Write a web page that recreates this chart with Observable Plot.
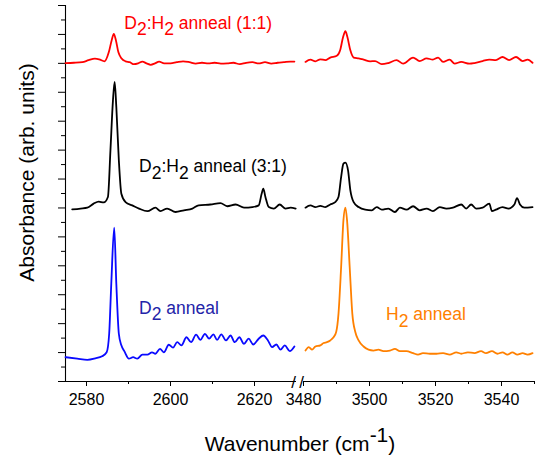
<!DOCTYPE html>
<html>
<head>
<meta charset="utf-8">
<script src="https://cdn.jsdelivr.net/npm/d3@7"></script>
<script src="https://cdn.jsdelivr.net/npm/@observablehq/plot@0.6"></script>
<style>
  html, body { margin: 0; padding: 0; background: #fff; }
  #chart svg { display: block; }
</style>
</head>
<body>
<div id="chart"></div>
<script>
// Broken wavenumber axis: D–O stretch region and H–O stretch region
const lowRange = [2575, 2630];
const highRange = [3480, 3550];
const xTicks = [2580, 2600, 2620, 3480, 3500, 3520, 3540];
const xMinorTicks = [2590, 2610, 3490, 3510, 3530, 3550];
const yMajorTicks = [0, 1, 2, 3, 4, 5, 6, 7, 8, 9, 10, 11, 12, 13];
const yMinorTicks = [0.5, 1.5, 2.5, 3.5, 4.5, 5.5, 6.5, 7.5, 8.5, 9.5, 10.5, 11.5, 12.5];

// Spectra [wavenumber, absorbance], vertically offset for display
const redLow = [
  [2575.0,11.01],[2577.0,11.02],[2579.0,11.04],[2580.5,11.11],[2582.0,11.16],[2583.0,11.14],
  [2584.3,11.07],[2585.3,11.38],[2586.0,11.80],[2586.5,12.02],[2587.0,11.80],[2587.6,11.38],
  [2588.3,11.18],[2589.3,11.07],[2590.3,11.04],[2591.3,10.97],[2592.3,11.00],[2593.3,11.06],
  [2594.3,11.00],[2595.3,10.95],[2596.3,11.00],[2597.3,11.06],[2598.5,11.00],[2600.0,11.00],
  [2601.5,11.04],[2603.0,11.07],[2604.5,11.04],[2606.0,10.99],[2607.5,11.02],[2609.0,11.00],
  [2610.5,11.02],[2612.0,10.99],[2613.5,11.00],[2615.0,11.02],[2616.5,10.97],[2618.0,11.02],
  [2619.5,11.04],[2621.0,11.00],[2622.5,11.04],[2624.0,10.99],[2625.5,11.02],[2627.0,11.04],
  [2628.5,11.06],[2629.5,11.06]
];
const redHigh = [
  [3480.6,11.05],[3482.1,11.13],[3483.6,11.07],[3485.1,11.14],[3486.6,11.11],[3488.1,11.20],
  [3490.1,11.26],[3491.1,11.45],[3492.0,11.91],[3492.7,12.11],[3493.3,11.91],[3494.2,11.45],
  [3495.2,11.20],[3496.7,11.17],[3498.2,11.13],[3500.2,11.07],[3501.7,11.08],[3503.7,10.97],
  [3505.7,11.01],[3508.2,11.11],[3510.2,10.99],[3513.2,11.20],[3515.2,11.08],[3517.3,11.17],
  [3519.2,11.13],[3520.8,11.20],[3522.3,11.05],[3524.3,11.13],[3525.8,10.99],[3527.8,11.05],
  [3530.3,10.99],[3531.8,11.01],[3534.3,11.08],[3536.3,11.13],[3538.3,11.11],[3540.3,11.22],
  [3542.3,11.11],[3544.4,11.22],[3546.4,11.08],[3547.9,11.13],[3549.4,11.02]
];
const blackLow = [
  [2576.6,5.95],[2578.6,5.98],[2580.2,6.01],[2581.7,6.15],[2582.9,6.22],[2584.1,6.19],
  [2585.1,6.38],[2585.7,7.99],[2586.3,9.72],[2586.7,10.36],[2587.1,9.49],[2587.7,7.65],
  [2588.3,6.49],[2589.3,6.20],[2590.9,6.09],[2592.5,5.98],[2594.5,5.89],[2596.4,6.01],
  [2597.6,5.89],[2599.2,5.98],[2601.2,5.86],[2603.2,5.92],[2605.2,5.98],[2606.7,6.09],
  [2609.5,6.12],[2611.9,6.17],[2613.5,6.06],[2615.5,6.12],[2617.5,6.01],[2619.5,6.03],
  [2621.0,6.09],[2621.7,6.49],[2622.1,6.67],[2622.6,6.38],[2623.4,6.03],[2624.6,5.98],
  [2626.0,6.12],[2627.4,5.98],[2628.6,6.01],[2629.8,5.98]
];
const blackHigh = [
  [3480.6,6.01],[3482.1,6.09],[3483.6,6.03],[3485.1,6.07],[3486.6,6.03],[3488.1,6.12],
  [3489.6,6.20],[3490.6,6.38],[3491.4,7.07],[3492.1,7.53],[3492.7,7.57],[3493.5,7.30],
  [3494.2,6.61],[3495.2,6.20],[3496.7,6.03],[3498.7,5.94],[3500.7,5.92],[3502.2,6.03],
  [3503.7,5.94],[3505.7,5.98],[3507.7,5.86],[3509.2,6.01],[3511.2,5.94],[3513.2,6.06],
  [3515.2,5.92],[3517.3,5.98],[3519.2,5.89],[3521.3,6.03],[3523.3,5.98],[3525.3,6.01],
  [3527.8,6.12],[3529.3,5.98],[3530.8,6.12],[3532.3,5.98],[3534.3,6.01],[3536.3,6.15],
  [3537.1,5.89],[3538.3,5.94],[3540.3,6.03],[3542.1,5.98],[3543.9,6.12],[3544.7,6.34],
  [3545.6,6.12],[3546.9,6.01],[3549.4,6.03]
];
const blueLow = [
  [2575.0,0.84],[2577.8,0.79],[2580.2,0.75],[2582.1,0.80],[2583.7,0.87],[2584.8,1.01],
  [2585.4,1.65],[2585.9,3.38],[2586.6,5.32],[2587.1,3.38],[2587.7,1.65],[2588.3,1.25],
  [2589.0,1.05],[2590.1,0.79],[2591.1,0.84],[2592.1,0.79],[2593.3,0.93],[2594.5,0.93],
  [2595.6,1.01],[2596.4,0.96],[2597.5,1.13],[2598.4,1.01],[2599.6,1.27],[2600.6,1.17],
  [2601.6,1.36],[2602.6,1.25],[2603.8,1.53],[2604.9,1.36],[2606.1,1.62],[2607.1,1.44],
  [2608.2,1.65],[2609.2,1.48],[2610.2,1.63],[2611.1,1.44],[2612.1,1.63],[2613.2,1.42],
  [2614.3,1.59],[2615.3,1.36],[2616.4,1.53],[2617.5,1.30],[2618.6,1.48],[2619.7,1.28],
  [2621.0,1.48],[2622.1,1.59],[2623.2,1.42],[2624.2,1.19],[2625.2,1.28],[2626.2,1.10],
  [2627.2,1.25],[2628.4,1.05],[2629.5,1.21]
];
const orangeHigh = [
  [3480.6,1.07],[3481.6,1.19],[3482.6,1.10],[3483.6,1.21],[3485.1,1.25],[3486.1,1.33],
  [3487.1,1.36],[3488.1,1.42],[3489.1,1.53],[3489.9,1.71],[3490.6,2.34],[3491.4,3.95],
  [3492.1,5.57],[3492.7,6.01],[3493.2,5.57],[3494.0,3.95],[3494.8,2.34],[3495.7,1.71],
  [3496.7,1.42],[3498.2,1.21],[3499.7,1.10],[3501.2,1.07],[3502.7,1.10],[3504.2,1.05],
  [3506.2,1.07],[3507.7,1.13],[3509.2,1.05],[3511.2,1.05],[3513.2,0.98],[3514.7,0.93],
  [3516.2,0.98],[3518.3,0.96],[3520.3,0.96],[3522.3,0.98],[3524.3,0.93],[3526.3,1.01],
  [3527.8,0.96],[3529.8,1.01],[3531.8,0.98],[3533.8,1.05],[3535.3,0.98],[3537.1,1.05],
  [3538.8,0.96],[3540.3,1.01],[3541.8,0.93],[3543.3,1.01],[3544.8,0.93],[3546.4,0.98],
  [3547.9,0.93],[3549.4,0.98]
];

const seriesNames = ["D2:H2 anneal (1:1)", "D2:H2 anneal (3:1)", "D2 anneal", "H2 anneal"];
const lineColors = ["#ff0000", "#000000", "#0a0aff", "#ff8000"];
const labelColors = ["#ff0000", "#000000", "#2323a8", "#ff8000"];
const labelX = [2589.0, 2592.5, 2592.5, 3505.0];
const labelY = [12.2, 7.23, 2.34, 2.13];

const segments = [
  {series: 0, points: redLow}, {series: 0, points: redHigh},
  {series: 1, points: blackLow}, {series: 1, points: blackHigh},
  {series: 2, points: blueLow},
  {series: 3, points: orangeHigh}
];
const rows = segments.flatMap((s, k) =>
  s.points.map(([x, y]) => ({x, y, seg: k, series: s.series})));
const labels = seriesNames.map((text, i) => ({text, x: labelX[i], y: labelY[i], color: labelColors[i]}));
const breakMarks = [{x: lowRange[1], dx: -3}, {x: highRange[0], dx: -2}];

const font = "'Liberation Sans', Arial, Helvetica, sans-serif";

const svg = Plot.plot({
  width: 542,
  height: 457,
  marginLeft: 65,
  marginRight: 8,
  marginTop: 5,
  marginBottom: 76,
  style: {fontFamily: font, background: "#fff", color: "#000"},
  x: {type: "linear", domain: [...lowRange, ...highRange], range: [65, 296, 303, 534], label: null},
  y: {domain: [0, 13], label: null},
  marks: [
    // axis lines (x axis broken in two pieces)
    Plot.ruleX([lowRange[0]], {y1: 0, y2: 13, strokeWidth: 1.1}),
    Plot.ruleY([0], {x1: lowRange[0], x2: lowRange[1], strokeWidth: 1.1}),
    Plot.ruleY([0], {x1: highRange[0], x2: highRange[1], strokeWidth: 1.1}),
    Plot.axisX({ticks: xTicks, tickSize: 5, tickPadding: 7, fontSize: 16, tickFormat: d => String(d), label: null}),
    Plot.axisX({ticks: xMinorTicks, tickSize: 3, tickFormat: () => "", label: null}),
    Plot.axisY({ticks: yMajorTicks, tickSize: 7, tickFormat: () => "", label: null}),
    Plot.axisY({ticks: yMinorTicks, tickSize: 4, tickFormat: () => "", label: null}),
    // axis break marks
    ...breakMarks.map(b => Plot.text([b], {x: "x", y: () => 0, text: () => "/", dx: b.dx, dy: 1,
      fontSize: 17, lineAnchor: "middle", fill: "#000"})),
    // spectra
    ...segments.map((s, k) => Plot.line(rows.filter(r => r.seg === k), {
      x: "x", y: "y", stroke: lineColors[s.series], strokeWidth: 1.8, curve: "monotone-x"
    })),
    // trace labels
    Plot.text(labels, {x: "x", y: "y", text: "text", fill: d => d.color, textAnchor: "start",
      lineAnchor: "bottom", fontSize: 17.5}),
    // axis titles
    Plot.text(["Wavenumber (cm-1)"], {frameAnchor: "bottom", text: d => d, dy: 69,
      textAnchor: "middle", lineAnchor: "bottom", fontSize: 21, fill: "#000"}),
    Plot.text(["Absorbance (arb. units)"], {frameAnchor: "left", text: d => d, rotate: -90,
      dx: -32, dy: -21, textAnchor: "middle", lineAnchor: "bottom", fontSize: 21, fill: "#000"})
  ]
});

// Subscripts for D2/H2 and the superscript in cm-1
function richText(root) {
  d3.select(root).selectAll("text").each(function () {
    const s = this.textContent;
    if (/^\d{4}$/.test(s)) { this.setAttribute("font-size", 16); return; }
    if (!/[DH]2|cm-1/.test(s)) return;
    const parts = [];
    const re = /([DH])2|cm(-1)/g;
    let last = 0, m;
    while ((m = re.exec(s)) !== null) {
      if (m[1]) {
        parts.push({t: s.slice(last, m.index) + m[1], shift: 0});
        parts.push({t: "2", shift: 0.38});
      } else {
        parts.push({t: s.slice(last, m.index) + "cm", shift: 0});
        parts.push({t: "-1", shift: -0.42});
      }
      last = re.lastIndex;
    }
    parts.push({t: s.slice(last), shift: 0});
    while (this.firstChild) this.removeChild(this.firstChild);
    let prev = 0;
    for (const p of parts) {
      if (!p.t) continue;
      const ts = document.createElementNS("http://www.w3.org/2000/svg", "tspan");
      const d = p.shift - prev;
      if (d !== 0) ts.setAttribute("dy", d.toFixed(2) + "em");
      ts.textContent = p.t;
      this.appendChild(ts);
      prev = p.shift;
    }
  });
}
richText(svg);
document.getElementById("chart").appendChild(svg);
</script>
</body>
</html>
